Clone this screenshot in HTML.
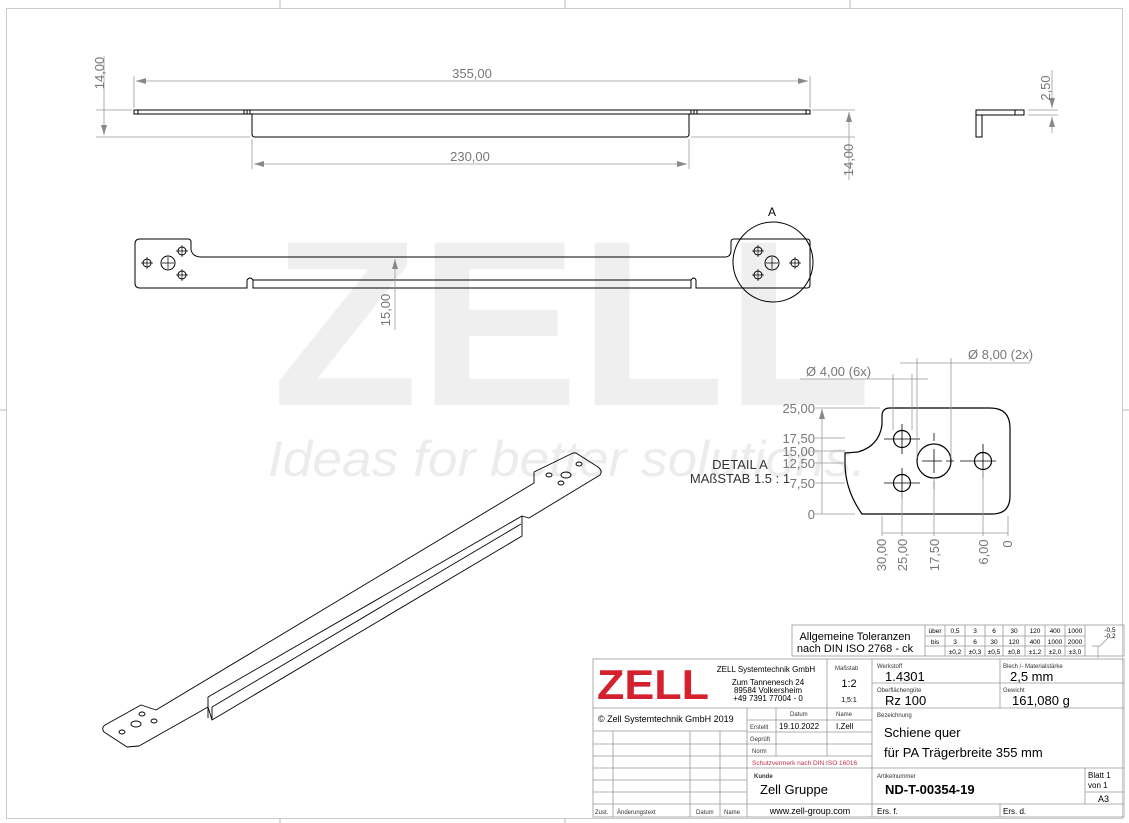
<!DOCTYPE html>
<html><head><meta charset="utf-8"><style>
html,body{margin:0;padding:0;background:#fff;}
svg{display:block;font-family:"Liberation Sans",sans-serif;}
</style></head><body>
<svg width="1129" height="823" viewBox="0 0 1129 823" xmlns="http://www.w3.org/2000/svg">
<defs>
<marker id="ar" viewBox="0 0 10 6" refX="10" refY="3" markerWidth="10" markerHeight="6" orient="auto-start-reverse" markerUnits="userSpaceOnUse"><path d="M0,0 L10,3 L0,6z" fill="#888"/></marker>
</defs>
<!-- frame -->
<rect x="6.5" y="8.5" width="1116" height="810" fill="none" stroke="#ccc" stroke-width="1"/>
<g stroke="#bbb"><line x1="280" y1="0" x2="280" y2="8"/><line x1="565" y1="0" x2="565" y2="8"/><line x1="850" y1="0" x2="850" y2="8"/><line x1="0" y1="410" x2="6" y2="410"/><line x1="1123" y1="410" x2="1129" y2="410"/><line x1="280" y1="818" x2="280" y2="823"/><line x1="565" y1="818" x2="565" y2="823"/></g>

<!-- watermark -->
<text x="272" y="405" font-size="236" font-weight="bold" fill="#efefef" textLength="600" lengthAdjust="spacingAndGlyphs">ZELL</text>
<text x="268" y="476" font-size="50" font-style="italic" fill="#ececec" textLength="598" lengthAdjust="spacingAndGlyphs">Ideas for better solutions.</text>

<!-- side view -->
<g fill="none" stroke="#000" stroke-width="1">
<rect x="134" y="110" width="676" height="4"/>
<path d="M252,114 L252,134 Q252,137 255,137 L686,137 Q689,137 689,134 L689,114"/>
<line x1="244" y1="110" x2="244" y2="114"/><line x1="247" y1="110" x2="247" y2="114"/><line x1="250" y1="110" x2="250" y2="114"/>
<line x1="691" y1="110" x2="691" y2="114"/><line x1="694" y1="110" x2="694" y2="114"/><line x1="697" y1="110" x2="697" y2="114"/>
<line x1="138" y1="110" x2="138" y2="114"/><line x1="806" y1="110" x2="806" y2="114"/>
</g>
<g stroke="#999" stroke-width="0.8" fill="none">
<line x1="134" y1="108" x2="134" y2="76"/><line x1="810" y1="108" x2="810" y2="76"/>
<line x1="136" y1="81" x2="808" y2="81" marker-start="url(#ar)" marker-end="url(#ar)"/>
<line x1="252" y1="139" x2="252" y2="169"/><line x1="689" y1="139" x2="689" y2="169"/>
<line x1="254" y1="164" x2="687" y2="164" marker-start="url(#ar)" marker-end="url(#ar)"/>
<line x1="96" y1="110" x2="132" y2="110"/><line x1="96" y1="137" x2="250" y2="137"/>
<line x1="104" y1="56" x2="104" y2="135" marker-end="url(#ar)"/>
<line x1="812" y1="110" x2="855" y2="110"/><line x1="691" y1="137" x2="855" y2="137"/>
<line x1="849" y1="112" x2="849" y2="180" marker-start="url(#ar)"/>
<line x1="1028" y1="110" x2="1058" y2="110"/><line x1="1028" y1="115" x2="1058" y2="115"/>
<line x1="1052" y1="70" x2="1052" y2="108" marker-end="url(#ar)"/>
<line x1="1052" y1="133" x2="1052" y2="117" marker-end="url(#ar)"/>
</g>
<g fill="#777" font-size="13">
<text x="472" y="78" text-anchor="middle">355,00</text>
<text x="470" y="161" text-anchor="middle">230,00</text>
<text transform="translate(104,73) rotate(-90)" text-anchor="middle">14,00</text>
<text transform="translate(853,160) rotate(-90)" text-anchor="middle">14,00</text>
<text transform="translate(1050,88) rotate(-90)" text-anchor="middle">2,50</text>
</g>
<g fill="none" stroke="#000" stroke-width="1">
<path d="M976,110 L1024,110 L1024,115 L982,115 L982,137 L976,137 Z"/>
<line x1="976" y1="115" x2="982" y2="115"/><line x1="1015" y1="110" x2="1015" y2="115"/>
</g>

<!-- top view -->
<g fill="none" stroke="#000" stroke-width="1">
<path d="M140,239 L188,239 Q191,239 191,242 L191,250 Q193,257 201,257 L725,257 Q731,257 731,250 L731,242 Q731,239 734,239 L807,239 Q810,239 810,242 L810,285 Q810,288 807,288 L696,288 L696,280 Q694,276 691,280 L691,288 L253,288 L253,280 Q250,276 247,280 L247,288 L140,288 Q135,288 135,283 L135,244 Q135,239 140,239 Z"/>
<line x1="253" y1="280" x2="691" y2="280"/>
<circle cx="168" cy="263" r="7"/><circle cx="182" cy="251" r="4"/><circle cx="182" cy="275" r="4"/><circle cx="147" cy="263" r="4"/>
<circle cx="772" cy="263" r="7"/><circle cx="758" cy="251" r="4"/><circle cx="758" cy="275" r="4"/><circle cx="795" cy="263" r="4"/>
<circle cx="773" cy="262" r="40"/>
</g>
<g stroke="#000" stroke-width="0.7">
<path d="M141,263h12M147,257v12M162,263h12M168,257v12M176,251h12M182,245v12M176,275h12M182,269v12"/>
<path d="M752,251h12M758,245v12M752,275h12M758,269v12M766,263h12M772,257v12M789,263h12M795,257v12"/>
</g>
<text x="772" y="216" font-size="12" text-anchor="middle">A</text>
<line x1="395" y1="259" x2="395" y2="330" stroke="#999" stroke-width="0.8" marker-start="url(#ar)"/>
<text transform="translate(390,310) rotate(-90)" fill="#777" font-size="13" text-anchor="middle">15,00</text>

<!-- detail A -->
<g fill="none" stroke="#000" stroke-width="1.2">
<path d="M890,408 L990,408 Q1010,408 1010,428 L1010,496 Q1010,514 992,514 L862,514 Q845,490 845,463 L845,453 L858,452 Q879,446 882,425 L882,416 Q882,408 890,408 Z"/>
<circle cx="902" cy="439" r="8.5"/><circle cx="902" cy="483" r="8.5"/><circle cx="934" cy="461" r="17"/><circle cx="983" cy="461" r="8.5"/>
</g>
<g stroke="#000" stroke-width="0.8">
<path d="M884,439h36M902,424v30M884,483h36M902,468v30M922,461h10M946,461h8M926,461h16M934,449v24M934,433v8M934,481v8M966,461h30M983,444v34M960,461h10"/>
</g>
<g stroke="#999" stroke-width="0.8" fill="none">
<line x1="822" y1="409" x2="822" y2="514" marker-start="url(#ar)"/>
<path d="M815,408h65M815,438h30M815,451h30M815,463h30M815,483h30M815,514h40"/>
<path d="M882,516v20M902,492v44M934,478v58M983,470v66M1008,516v20"/>
<line x1="882" y1="533" x2="1008" y2="533"/>
<line x1="800" y1="379" x2="928" y2="379"/>
<path d="M893,374v56M912,374v56"/>
<line x1="900" y1="363" x2="1030" y2="363"/>
<path d="M917,358v100M951,358v100"/>
</g>
<g fill="#777" font-size="13">
<text x="815" y="413" text-anchor="end">25,00</text>
<text x="815" y="443" text-anchor="end">17,50</text>
<text x="815" y="456" text-anchor="end">15,00</text>
<text x="815" y="468" text-anchor="end">12,50</text>
<text x="815" y="488" text-anchor="end">7,50</text>
<text x="815" y="519" text-anchor="end">0</text>
<text transform="translate(886,555) rotate(-90)" text-anchor="middle">30,00</text>
<text transform="translate(907,555) rotate(-90)" text-anchor="middle">25,00</text>
<text transform="translate(939,555) rotate(-90)" text-anchor="middle">17,50</text>
<text transform="translate(988,552) rotate(-90)" text-anchor="middle">6,00</text>
<text transform="translate(1012,544) rotate(-90)" text-anchor="middle">0</text>
<text x="806" y="376">Ø 4,00 (6x)</text>
<text x="968" y="359">Ø 8,00 (2x)</text>
</g>
<text x="740" y="469" font-size="13" text-anchor="middle" fill="#333">DETAIL A</text>
<text x="740" y="483" font-size="13" text-anchor="middle" fill="#333">MAßSTAB 1.5 : 1</text>

<!-- 3D iso -->
<g fill="none" stroke="#000" stroke-width="0.9" stroke-linejoin="round">
<path d="M576,453 L598,467 Q603,471 600,475 L529,518 L522,516 L522,536 L212,720 L208,707 L139,746 L127,747 L104,732 Q101,728 105,725 L141,705 L156,710 L534,483 L534,472 L573,453 Z"/>
<path d="M208,697 L522,516 M212,707 L521,524 M208,697 L208,718 M212,707 L212,720"/>
<ellipse cx="566" cy="475" rx="5" ry="3"/><ellipse cx="579" cy="464" rx="3" ry="2"/><ellipse cx="561" cy="483" rx="3" ry="2"/><ellipse cx="549" cy="475" rx="3" ry="2"/>
<ellipse cx="136" cy="724" rx="5" ry="3"/><ellipse cx="122" cy="732" rx="3" ry="2"/><ellipse cx="142" cy="714" rx="3" ry="2"/><ellipse cx="154" cy="721" rx="3" ry="2"/>
</g>

<!-- tolerance box -->
<g stroke="#999" stroke-width="0.8" fill="none">
<rect x="792" y="625" width="332" height="31"/>
<path d="M925,625v31M945,625v31M965,625v31M985,625v31M1003,625v31M1025,625v31M1045,625v31M1065,625v31M1085,625v31M925,636h160M925,646h160"/>
<path d="M1098,646v12M1092,646h8l8,-8"/>
</g>
<g font-size="11" fill="#000" text-anchor="middle">
<text x="855" y="640">Allgemeine Toleranzen</text>
<text x="855" y="652">nach DIN ISO 2768 - ck</text>
</g>
<g font-size="6.5" fill="#000" text-anchor="middle">
<text x="935" y="633">über</text><text x="955" y="633">0,5</text><text x="975" y="633">3</text><text x="994" y="633">6</text><text x="1014" y="633">30</text><text x="1035" y="633">120</text><text x="1055" y="633">400</text><text x="1075" y="633">1000</text>
<text x="935" y="644">bis</text><text x="955" y="644">3</text><text x="975" y="644">6</text><text x="994" y="644">30</text><text x="1014" y="644">120</text><text x="1035" y="644">400</text><text x="1055" y="644">1000</text><text x="1075" y="644">2000</text>
<text x="955" y="654">±0,2</text><text x="975" y="654">±0,3</text><text x="994" y="654">±0,5</text><text x="1014" y="654">±0,8</text><text x="1035" y="654">±1,2</text><text x="1055" y="654">±2,0</text><text x="1075" y="654">±3,0</text>
<text x="1110" y="632">-0,5</text><text x="1110" y="638">-0,2</text>
</g>

<!-- title block -->
<g stroke="#999" stroke-width="0.8" fill="none">
<rect x="593" y="659" width="531" height="158"/>
<path d="M593,708h279M827,659v49M872,659v158M1000,659v49M872,683h252M872,708h252"/>
<path d="M747,708v96M747,720h125M776,708v48M827,708v48M747,732h125M747,744h125M747,756h125M747,768h125"/>
<path d="M593,731h154M593,744h154M593,756h154M593,768h154M593,780h154M593,792h154M593,804h531"/>
<path d="M613,731v86M690,731v86M720,731v86M747,804v13M1000,804v13"/>
<path d="M872,768h252M1085,768v36M1085,792h39"/>
</g>
<text x="597" y="699" font-size="42" font-weight="bold" fill="#d5202e" textLength="112" lengthAdjust="spacingAndGlyphs">ZELL</text>
<g font-size="8" fill="#000" text-anchor="middle">
<text x="766" y="672">ZELL Systemtechnik GmbH</text>
<text x="768" y="685">Zum Tannenesch 24</text>
<text x="768" y="693">89584 Volkersheim</text>
<text x="768" y="701">+49 7391 77004 - 0</text>
</g>
<g font-size="6" fill="#333">
<text x="835" y="670">Maßstab</text>
<text x="877" y="668">Werkstoff</text>
<text x="1003" y="668">Blech /- Materialstärke</text>
<text x="877" y="692">Oberflächengüte</text>
<text x="1003" y="692">Gewicht</text>
<text x="877" y="717">Bezeichnung</text>
<text x="754" y="778" font-weight="bold">Kunde</text>
<text x="877" y="778">Artikelnummer</text>
<text x="790" y="716">Datum</text><text x="836" y="716">Name</text>
<text x="750" y="729">Erstellt</text><text x="750" y="741">Geprüft</text><text x="752" y="753">Norm</text>
<text x="595" y="814">Zust.</text><text x="617" y="814">Änderungstext</text><text x="696" y="814">Datum</text><text x="724" y="814">Name</text>
</g>
<text x="752" y="765" font-size="6.5" fill="#c0304a">Schutzvermerk nach DIN ISO 16016</text>
<g fill="#000">
<text x="849" y="687" font-size="11" text-anchor="middle">1:2</text>
<text x="849" y="702" font-size="7" text-anchor="middle">1,5:1</text>
<text x="885" y="681" font-size="13">1.4301</text>
<text x="1010" y="681" font-size="13">2,5 mm</text>
<text x="885" y="705" font-size="13">Rz 100</text>
<text x="1012" y="705" font-size="13">161,080 g</text>
<text x="598" y="722" font-size="9">© Zell Systemtechnik GmbH 2019</text>
<text x="779" y="729" font-size="8">19.10.2022</text>
<text x="836" y="729" font-size="8">I.Zell</text>
<text x="884" y="737" font-size="13">Schiene quer</text>
<text x="884" y="757" font-size="13">für PA Trägerbreite 355 mm</text>
<text x="760" y="794" font-size="13">Zell Gruppe</text>
<text x="885" y="794" font-size="13" font-weight="bold">ND-T-00354-19</text>
<text x="1088" y="778" font-size="8">Blatt  1</text>
<text x="1088" y="788" font-size="8">von    1</text>
<text x="1098" y="802" font-size="9">A3</text>
<text x="810" y="814" font-size="9" text-anchor="middle">www.zell-group.com</text>
<text x="877" y="814" font-size="8">Ers. f.</text>
<text x="1003" y="814" font-size="8">Ers. d.</text>
</g>
</svg>
</body></html>
